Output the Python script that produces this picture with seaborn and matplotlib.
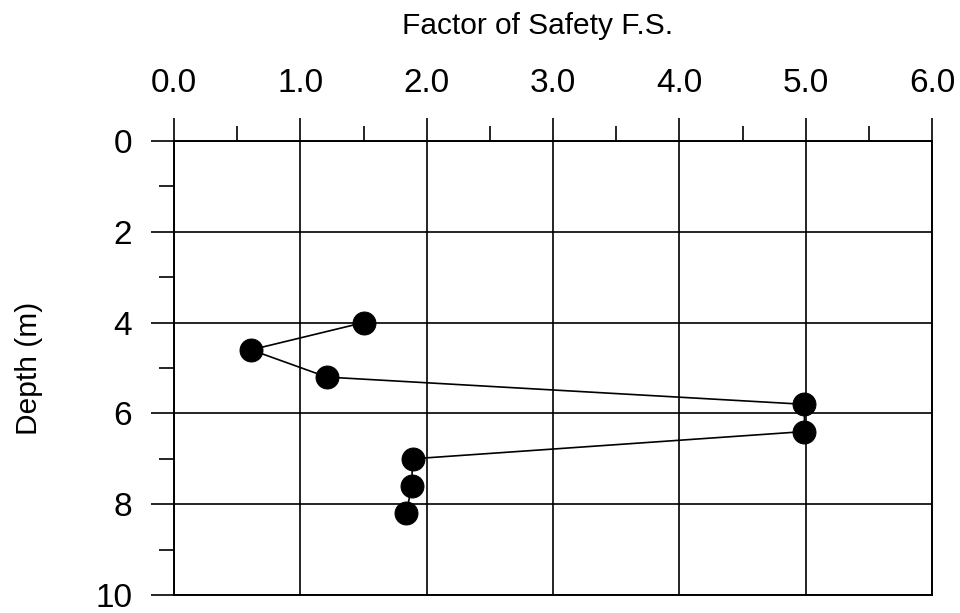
import numpy as np
import pandas as pd
import seaborn as sns
import matplotlib.pyplot as plt
from matplotlib.ticker import MultipleLocator

# valores
fator_seguranca = [1.50, 0.61, 1.21, 4.99, 4.99, 1.89, 1.88, 1.84]
profundidade = [4.0, 4.6, 5.2, 5.8, 6.4, 7.0, 7.6, 8.2]
x_ticks = [0.0, 1.0, 2.0, 3.0, 4.0, 5.0, 6.0]
y_ticks = [0, 2, 4, 6, 8, 10]

df = pd.DataFrame({'fs': fator_seguranca, 'depth': profundidade})

sns.set_style('white')
plt.rcParams['font.family'] = ['Liberation Sans', 'DejaVu Sans']
plt.rcParams['text.color'] = 'black'

fig = plt.figure(figsize=(9.6, 6.13), dpi=100)
ax = fig.add_axes([174 / 960, 1 - 595 / 613, 758 / 960, 454 / 613])

sns.lineplot(data=df, x='fs', y='depth', sort=False, estimator=None,
             color='black', linewidth=1.2, marker='o', markersize=16.5,
             markeredgecolor='black', markerfacecolor='black', ax=ax, zorder=5)

ax.set_xlim(0, 6)
ax.set_ylim(10, 0)
ax.set_xticks(x_ticks)
ax.set_xticklabels([f'{t:.1f}' for t in x_ticks])
ax.set_yticks(y_ticks)
ax.xaxis.set_minor_locator(MultipleLocator(0.5))
ax.yaxis.set_minor_locator(MultipleLocator(1))

ax.xaxis.tick_top()
ax.xaxis.set_label_position('top')
ax.tick_params(axis='both', which='major', direction='out', length=16.5, width=1.2,
               color='black', labelsize=24, labelcolor='black', pad=13.5)
ax.tick_params(axis='both', which='minor', direction='out', length=10.8, width=1.2,
               color='black')
ax.tick_params(axis='x', which='both', top=True, bottom=False)
ax.tick_params(axis='y', which='both', left=True, right=False)

ax.grid(True, which='major', color='black', linewidth=1.2)
for s in ax.spines.values():
    s.set_color('black')
    s.set_linewidth(1.4)

ax.set_xlabel('Factor of Safety F.S.', fontsize=21.5, color='black')
ax.set_ylabel('Depth (m)', fontsize=21.5, color='black')
ax.xaxis.set_label_coords(0.479, 1.236)
ax.yaxis.set_label_coords(-0.173, 0.5)

fig.savefig('out.png', dpi=100)
